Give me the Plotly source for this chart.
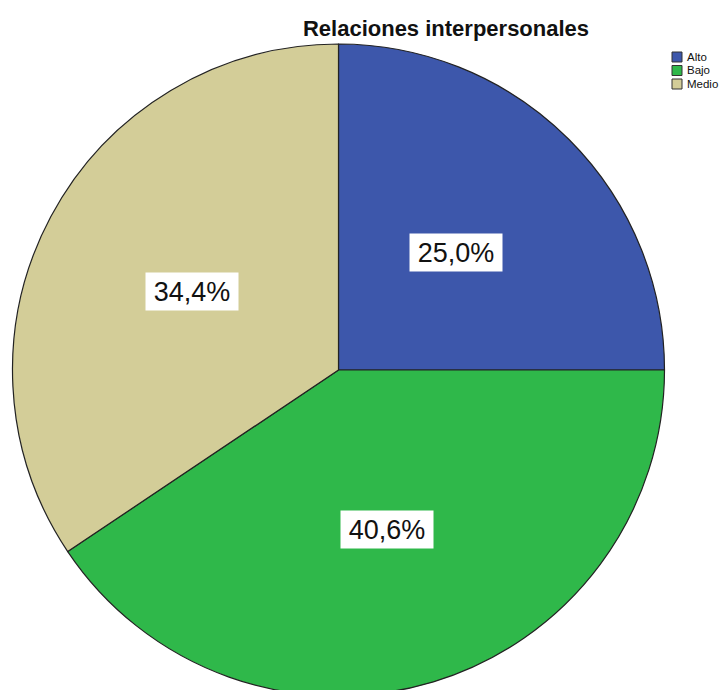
import math
import plotly.graph_objects as go

# Data
categories = ["Alto", "Bajo", "Medio"]
percentages = [25.0, 40.6, 34.4]
colors = ["#3D57AB", "#2FB84A", "#D3CD98"]
title_text = "Relaciones interpersonales"

W, H = 728, 710
cx, cy, R = 338.5, 370.0, 326.0  # pixel geometry of the pie
FONT = "Liberation Sans, Arial, sans-serif"

fig = go.Figure(go.Pie(
    labels=categories,
    values=percentages,
    sort=False,
    direction="clockwise",
    rotation=0,
    marker=dict(colors=colors, line=dict(color="#222222", width=1.2)),
    textinfo="none",
    hoverinfo="label+percent",
    showlegend=False,
    domain=dict(x=[(cx - R) / W, (cx + R) / W],
                y=[(H - (cy + R)) / H, (H - (cy - R)) / H]),
))

# Percentage labels, placed at the middle angle of each slice
total = sum(percentages)
cum = 0.0
annotations = []
for cat, v in zip(categories, percentages):
    mid = math.radians(90 - 360 * (cum + v / 2) / total)
    cum += v
    px = cx + 0.51 * R * math.cos(mid)
    py = cy - 0.51 * R * math.sin(mid)
    annotations.append(dict(
        x=px / W, y=(H - py) / H, xref="paper", yref="paper",
        text=f"{v:.1f}".replace(".", ",") + "%",
        showarrow=False, font=dict(family=FONT, size=27, color="#111111"),
        bgcolor="white", width=90, height=35, borderpad=1,
        xanchor="center", yanchor="middle",
    ))

# Legend (compact, SPSS style)
shapes = []
lx, ly0, step, sw = 672, 52, 13.5, 10
for i, (cat, col) in enumerate(zip(categories, colors)):
    y0 = ly0 + i * step
    shapes.append(dict(type="rect", xref="paper", yref="paper",
                       x0=lx / W, x1=(lx + sw) / W,
                       y0=(H - y0 - sw) / H, y1=(H - y0) / H,
                       fillcolor=col, line=dict(color="#333333", width=1)))
    annotations.append(dict(
        x=(lx + sw + 3) / W, y=(H - y0 - sw / 2) / H, xref="paper", yref="paper",
        text=cat, showarrow=False, xanchor="left", yanchor="middle",
        font=dict(family=FONT, size=11.5, color="#111111"),
    ))

fig.update_layout(
    width=W, height=H,
    margin=dict(l=0, r=0, t=0, b=0),
    paper_bgcolor="white", plot_bgcolor="white",
    title=dict(text=f"<b>{title_text}</b>", x=446 / W, y=1 - 28 / H,
               xanchor="center", yanchor="middle",
               font=dict(family=FONT, size=22, color="#111111")),
    annotations=annotations,
    shapes=shapes,
)

fig.write_html("out.html",
               config={"displayModeBar": False},
               post_script="document.body.style.margin='0';document.body.style.overflow='hidden';")
